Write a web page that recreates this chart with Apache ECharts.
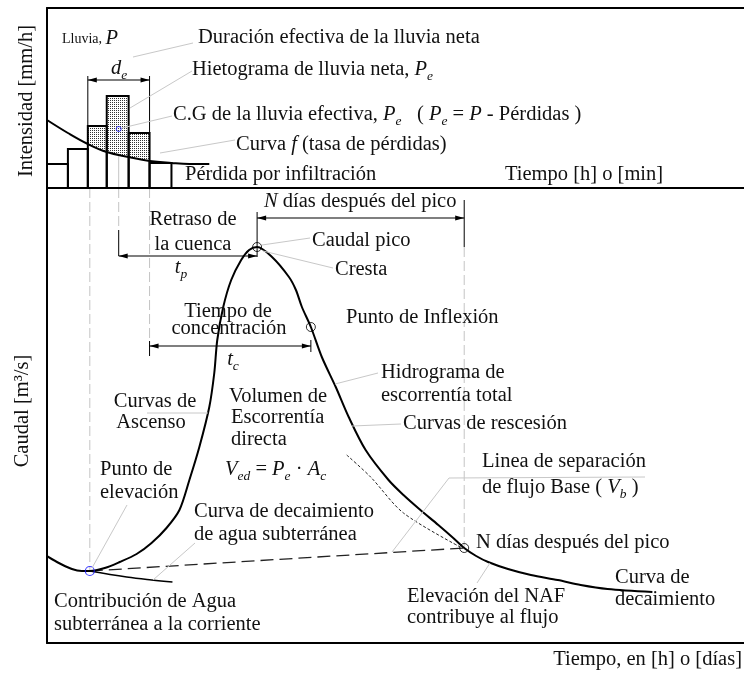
<!DOCTYPE html>
<html>
<head>
<meta charset="utf-8">
<title>Hidrograma</title>
<script src="https://cdn.jsdelivr.net/npm/echarts@6/dist/echarts.min.js"></script>
<style>
html,body{margin:0;padding:0;background:#fff;}
#chart{width:744px;height:673px;}
</style>
</head>
<body>
<div id="chart"></div>
<script>
var F = '"Liberation Serif","Times New Roman",serif';
var FS = 20.5;

// hietograma: bordes de los bloques (tiempo) e intensidad de cada bloque
var barEdges = [0, 4.2, 8.2, 12, 16.4, 20.6, 25];
var barTops = [4.8, 7.8, 12.4, 18.4, 11, 5];
var netBars = [2, 3, 4]; // bloques con lluvia neta
// curva f (tasa de perdidas)
var lossX = [0, 4.2, 8.2, 12, 16.4, 20.6, 25, 28.6, 32.6];
var lossY = [13.6, 11, 8.8, 7.2, 6.2, 5.4, 5, 4.8, 4.8];
var cgPoint = [14.4, 11.8];
var deSpan = [[8.2, 20.6, 21.6]];
var deTicks = [[8.2, 12.4, 8.2, 22.4], [20.6, 11, 20.6, 22.4]];
var topGuides = [[14.4, 11.8, 14.4, 0]];

// hidrograma (tiempo, caudal)
var hydroX = [-1, 2, 5, 7, 8.6, 11.6, 14.6, 18, 21, 24, 26.6, 28.6, 30.6, 32.6, 33.6, 34.2, 35.4, 37, 39, 40.6,
  42.2, 45.2, 48.6, 50, 51.2, 53, 55.2, 58, 60.6, 64, 68.6, 71.6, 75, 78.6, 81.6, 83.8, 86.2, 88.6, 92.6, 97.2,
  102.6, 107.2, 112.6, 121.6];
var hydroY = [18, 16.2, 14.8, 14.4, 14.4, 15, 16.2, 17.8, 20, 23, 26.6, 32.6, 39.2, 47.2, 54, 60.6, 67.2, 72.6, 76.6, 78.6,
  79.2, 77.2, 73.2, 70.6, 67.2, 63.2, 57.2, 51.2, 45.2, 38.6, 32.6, 29.6, 26.6, 23.6, 21, 19, 17.4, 16.2, 14.8, 13.6,
  12.6, 11.6, 10.8, 10.2];
// decaimiento de agua subterranea
var gwX = [8.6, 16, 21, 25.2];
var gwY = [14.4, 13.2, 12.6, 12.2];
// linea de separacion de flujo base
var baseX = [8.6, 83.8];
var baseY = [14.4, 19];
// prolongacion de la recesion
var extX = [60.2, 65, 71.6, 83];
var extY = [37.6, 33.2, 26, 19.2];
var peakPoint = [42.2, 79.2];
var inflexPoint = [53, 63.2];
var nDaysPoint = [83.8, 19];
var risePoint = [8.6, 14.4];
// cotas: [desde, hasta, nivel]
var spans = [[14.4, 42.2, 77.4], [20.6, 53, 59.4], [42.2, 83.8, 85]];
var guides = [[8.6, 91, 8.6, 14.4], [14.4, 91, 14.4, 82.6], [20.6, 91, 20.6, 60], [83.8, 79.2, 83.8, 19]];
var ticks = [[14.4, 82.6, 14.4, 77.4], [42.2, 86.2, 42.2, 77.2], [83.8, 88.6, 83.8, 79.2],
  [20.6, 60.4, 20.6, 57.4], [53, 60.6, 53, 58.2]];

function zip(a, b) {
  return a.map(function (v, i) { return [v, b[i]]; });
}
function lossAt(x) {
  for (var i = 0; i < lossX.length - 1; i++) {
    if (x >= lossX[i] && x <= lossX[i + 1]) {
      var t = (x - lossX[i]) / (lossX[i + 1] - lossX[i]);
      return lossY[i] + t * (lossY[i + 1] - lossY[i]);
    }
  }
  return lossY[lossY.length - 1];
}

// textura punteada
var pc = document.createElement('canvas');
pc.width = 2; pc.height = 2;
var pctx = pc.getContext('2d');
pctx.fillStyle = '#fff'; pctx.fillRect(0, 0, 2, 2);
pctx.fillStyle = '#333'; pctx.fillRect(0, 0, 1, 1);
var dots = {image: pc, repeat: 'repeat'};

function segRender(color, width, dash) {
  return function (params, api) {
    var a = api.coord([api.value(0), api.value(1)]);
    var b = api.coord([api.value(2), api.value(3)]);
    return {type: 'line', shape: {x1: a[0], y1: a[1], x2: b[0], y2: b[1]},
      style: {stroke: color, lineWidth: width, lineDash: dash || null}};
  };
}
function arrowRender(params, api) {
  var a = api.coord([api.value(0), api.value(2)]);
  var b = api.coord([api.value(1), api.value(2)]);
  var L = 9, W = 2.5;
  return {type: 'group', children: [
    {type: 'line', shape: {x1: a[0], y1: a[1], x2: b[0], y2: b[1]}, style: {stroke: '#000', lineWidth: 1.2}},
    {type: 'polygon', shape: {points: [[a[0], a[1]], [a[0] + L, a[1] - W], [a[0] + L, a[1] + W]]}, style: {fill: '#000'}},
    {type: 'polygon', shape: {points: [[b[0], b[1]], [b[0] - L, b[1] - W], [b[0] - L, b[1] + W]]}, style: {fill: '#000'}}
  ]};
}

var barData = barTops.map(function (h, i) { return [barEdges[i], barEdges[i + 1], h]; });
var netData = netBars.map(function (i) {
  return [barEdges[i], barEdges[i + 1], barTops[i], lossAt(barEdges[i]), lossAt(barEdges[i + 1])];
});

var rich = {
  i: {fontFamily: F, fontSize: FS, fontStyle: 'italic', fill: '#111'},
  s: {fontFamily: F, fontSize: 13.5, fontStyle: 'italic', fill: '#111', padding: [12, 0, 0, 0]},
  sm: {fontFamily: F, fontSize: 14, fill: '#111'}
};

var labels = [
  [62, 39, '{sm|Lluvia, }{i|P}'],
  [198, 38, 'Duración efectiva de la lluvia neta'],
  [111, 69, '{i|d}{s|e}'],
  [192, 70, 'Hietograma de lluvia neta, {i|P}{s|e}'],
  [173, 115, 'C.G de la lluvia efectiva, {i|P}{s|e}   ( {i|P}{s|e} = {i|P} - Pérdidas )'],
  [236, 145, 'Curva {i|f} (tasa de pérdidas)'],
  [185, 175, 'Pérdida por infiltración'],
  [505, 175, 'Tiempo [h] o [min]'],
  [264, 202, '{i|N} días después del pico'],
  [193, 220, 'Retraso de', 'center'],
  [193, 245, 'la cuenca', 'center'],
  [181, 268, '{i|t}{s|p}', 'center'],
  [312, 241, 'Caudal pico'],
  [335, 270, 'Cresta'],
  [228, 312, 'Tiempo de', 'center'],
  [229, 329, 'concentración', 'center'],
  [233, 360, '{i|t}{s|c}', 'center'],
  [346, 318, 'Punto de Inflexión'],
  [381, 373, 'Hidrograma de'],
  [381, 396, 'escorrentía total'],
  [403, 424, 'Curvas de rescesión'],
  [155, 402, 'Curvas de', 'center'],
  [151, 423, 'Ascenso', 'center'],
  [229, 397, 'Volumen de'],
  [231, 418, 'Escorrentía'],
  [231, 440, 'directa'],
  [225, 470, '{i|V}{s|ed} = {i|P}{s|e} · {i|A}{s|c}'],
  [100, 470, 'Punto de'],
  [100, 493, 'elevación'],
  [482, 462, 'Linea de separación'],
  [482, 488, 'de flujo Base ( {i|V}{s|b} )'],
  [194, 512, 'Curva de decaimiento'],
  [194, 535, 'de agua subterránea'],
  [476, 543, 'N días después del pico'],
  [54, 602, 'Contribución de Agua'],
  [54, 625, 'subterránea a la corriente'],
  [407, 597, 'Elevación del NAF'],
  [407, 618, 'contribuye al flujo'],
  [615, 578, 'Curva de'],
  [615, 600, 'decaimiento'],
  [742, 660, 'Tiempo, en [h] o [días]', 'right']
];
var leaders = [
  [[133, 57], [193, 43]],
  [[130, 108], [192, 71]],
  [[122, 128], [172, 116]],
  [[160, 153], [235, 140]],
  [[262, 245], [310, 238]],
  [[263, 251], [333, 268]],
  [[335, 384], [378, 373]],
  [[352, 426], [401, 424]],
  [[147, 413], [208, 413]],
  [[127, 505], [92, 568]],
  [[195, 543], [153, 580]],
  [[392, 552], [449, 478], [645, 477]],
  [[490, 563], [477, 583]]
];

var graphics = [];
leaders.forEach(function (pts) {
  graphics.push({type: 'polyline', silent: true, z: 50, shape: {points: pts},
    style: {stroke: '#c8c8c8', lineWidth: 1, fill: null}});
});
labels.forEach(function (l) {
  graphics.push({type: 'text', x: l[0], y: l[1], silent: true, z: 100,
    style: {text: l[2], fill: '#111', fontFamily: F, fontSize: FS,
      align: l[3] || 'left', verticalAlign: 'middle', rich: rich}});
});
graphics.push({type: 'text', x: 27, y: 101, rotation: Math.PI / 2, silent: true, z: 100,
  style: {text: 'Intensidad [mm/h]', fill: '#111', fontFamily: F, fontSize: FS, align: 'center', verticalAlign: 'middle'}});
graphics.push({type: 'text', x: 23, y: 411, rotation: Math.PI / 2, silent: true, z: 100,
  style: {text: 'Caudal [m³/s]', fill: '#111', fontFamily: F, fontSize: FS, align: 'center', verticalAlign: 'middle'}});

var hidden = {show: false};
var frame = {show: true, onZero: false, lineStyle: {color: '#000', width: 2}};
function axis(grid, max, pos, line) {
  return {type: 'value', gridIndex: grid, min: 0, max: max, position: pos,
    axisLine: line ? frame : hidden, axisTick: hidden, axisLabel: hidden, splitLine: hidden};
}
var option = {
  animation: false,
  backgroundColor: '#fff',
  grid: [
    {left: 47, right: -3, top: 8, height: 180},
    {left: 47, right: -3, top: 188, bottom: 30}
  ],
  xAxis: [
    axis(0, 140, 'bottom', true),
    axis(0, 140, 'top', true),
    axis(1, 140, 'bottom', true)
  ],
  yAxis: [
    axis(0, 36, 'left', true),
    axis(1, 91, 'left', true)
  ],
  graphic: {elements: graphics},
  series: [
    {type: 'custom', xAxisIndex: 0, yAxisIndex: 0, silent: true, z: 1, data: topGuides, renderItem: segRender('#c4c4c4', 1)},
    // lluvia neta punteada
    {type: 'custom', xAxisIndex: 0, yAxisIndex: 0, silent: true, z: 2, data: netData,
      renderItem: function (params, api) {
        var p = [
          api.coord([api.value(0), api.value(2)]), api.coord([api.value(1), api.value(2)]),
          api.coord([api.value(1), api.value(4)]), api.coord([api.value(0), api.value(3)])
        ];
        return {type: 'polygon', shape: {points: p}, style: {fill: dots}};
      }},
    // bloques del hietograma
    {type: 'custom', xAxisIndex: 0, yAxisIndex: 0, silent: true, z: 3, data: barData,
      renderItem: function (params, api) {
        var a = api.coord([api.value(0), api.value(2)]);
        var b = api.coord([api.value(1), 0]);
        return {type: 'rect', shape: {x: a[0], y: a[1], width: b[0] - a[0], height: b[1] - a[1]},
          style: {fill: null, stroke: '#000', lineWidth: 2}};
      }},
    {type: 'line', xAxisIndex: 0, yAxisIndex: 0, silent: true, z: 4, data: zip(lossX, lossY), smooth: 0.4,
      symbol: 'none', lineStyle: {color: '#000', width: 2}},
    {type: 'custom', xAxisIndex: 0, yAxisIndex: 0, silent: true, z: 4, data: deTicks, renderItem: segRender('#000', 1)},
    {type: 'custom', xAxisIndex: 0, yAxisIndex: 0, silent: true, z: 4, data: deSpan, renderItem: arrowRender},
    {type: 'scatter', xAxisIndex: 0, yAxisIndex: 0, silent: true, z: 5, data: [cgPoint], symbolSize: 5,
      itemStyle: {color: 'transparent', borderColor: '#1515ff', borderWidth: 1}},

    // guias y cotas del hidrograma
    {type: 'custom', xAxisIndex: 2, yAxisIndex: 1, silent: true, z: 1, data: guides, renderItem: segRender('#c4c4c4', 1, [10, 4])},
    {type: 'custom', xAxisIndex: 2, yAxisIndex: 1, silent: true, z: 2, data: ticks, renderItem: segRender('#000', 1)},
    {type: 'custom', xAxisIndex: 2, yAxisIndex: 1, silent: true, z: 2, data: spans, renderItem: arrowRender},
    {type: 'line', xAxisIndex: 2, yAxisIndex: 1, silent: true, z: 3, data: zip(baseX, baseY),
      symbol: 'none', lineStyle: {color: '#222', width: 1.3, type: [13, 6]}},
    {type: 'line', xAxisIndex: 2, yAxisIndex: 1, silent: true, z: 3, data: zip(extX, extY), smooth: 0.3,
      symbol: 'none', lineStyle: {color: '#222', width: 1, type: [3, 2]}},
    {type: 'line', xAxisIndex: 2, yAxisIndex: 1, silent: true, z: 3, data: zip(gwX, gwY), smooth: 0.4,
      symbol: 'none', lineStyle: {color: '#000', width: 1.5}},
    {type: 'line', xAxisIndex: 2, yAxisIndex: 1, silent: true, z: 4, data: zip(hydroX, hydroY), smooth: 0.3,
      clip: false, symbol: 'none', lineStyle: {color: '#000', width: 2}},
    {type: 'scatter', xAxisIndex: 2, yAxisIndex: 1, silent: true, z: 5, data: [peakPoint, inflexPoint, nDaysPoint],
      symbolSize: 9, itemStyle: {color: 'transparent', borderColor: '#000', borderWidth: 1}},
    {type: 'scatter', xAxisIndex: 2, yAxisIndex: 1, silent: true, z: 5, data: [risePoint],
      symbolSize: 9, itemStyle: {color: 'transparent', borderColor: '#1515ff', borderWidth: 1.2}}
  ]
};

var chart = echarts.init(document.getElementById('chart'));
chart.setOption(option);
</script>
</body>
</html>
